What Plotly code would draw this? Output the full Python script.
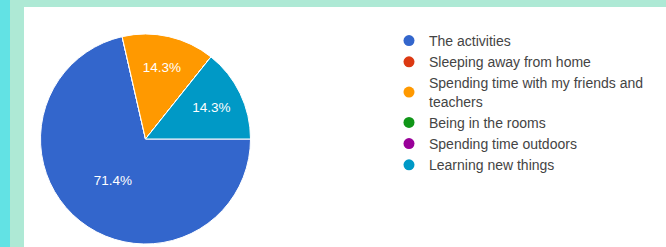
import plotly.graph_objects as go

categories = ["The activities", "Sleeping away from home",
              "Spending time with my friends and teachers",
              "Being in the rooms", "Spending time outdoors", "Learning new things"]
legend_labels = ["The activities", "Sleeping away from home",
                 "Spending time with my friends and<br>teachers",
                 "Being in the rooms", "Spending time outdoors", "Learning new things"]
values = [5, 0, 1, 0, 0, 1]
colors = ["#3366cc", "#dc3912", "#ff9900", "#109618", "#990099", "#0099c6"]

W, H = 666, 247
FONT = "Liberation Sans, Arial, sans-serif"

fig = go.Figure()
fig.add_trace(go.Pie(
    labels=categories, values=values, sort=False, direction="clockwise",
    rotation=90, marker=dict(colors=colors, line=dict(color="white", width=1)),
    texttemplate="%{percent:.1%}", textposition="inside",
    insidetextorientation="horizontal",
    textfont=dict(color="white", size=13.5, family=FONT),
    showlegend=False,
    domain=dict(x=[40.5 / W, 250.5 / W], y=[3 / H, 213 / H]),
))
for lab, col in zip(legend_labels, colors):
    fig.add_trace(go.Scatter(x=[None], y=[None], mode="markers", name=lab,
                             marker=dict(color=col, size=11, symbol="circle")))

shapes = [
    dict(type="rect", xref="paper", yref="paper", x0=0, x1=24 / W, y0=0, y1=1,
         fillcolor="#aee9d5", line=dict(width=0), layer="below"),
    dict(type="rect", xref="paper", yref="paper", x0=0, x1=1, y0=1 - 7 / H, y1=1,
         fillcolor="#aee9d5", line=dict(width=0), layer="below"),
    dict(type="rect", xref="paper", yref="paper", x0=0, x1=10 / W, y0=0, y1=1,
         fillcolor="#62e2e4", line=dict(width=0), layer="below"),
]

fig.update_layout(
    width=W, height=H, margin=dict(l=0, r=0, t=0, b=0),
    paper_bgcolor="white", plot_bgcolor="rgba(0,0,0,0)",
    xaxis=dict(visible=False), yaxis=dict(visible=False),
    shapes=shapes,
    legend=dict(x=389 / W, y=1 - 25 / H, xanchor="left", yanchor="top",
                font=dict(size=14, color="#444", family=FONT),
                bgcolor="rgba(0,0,0,0)", itemsizing="trace"),
)
fig.write_html("out.html", config={"displayModeBar": False},
               post_script="document.body.style.margin='0';document.body.style.padding='0';")
